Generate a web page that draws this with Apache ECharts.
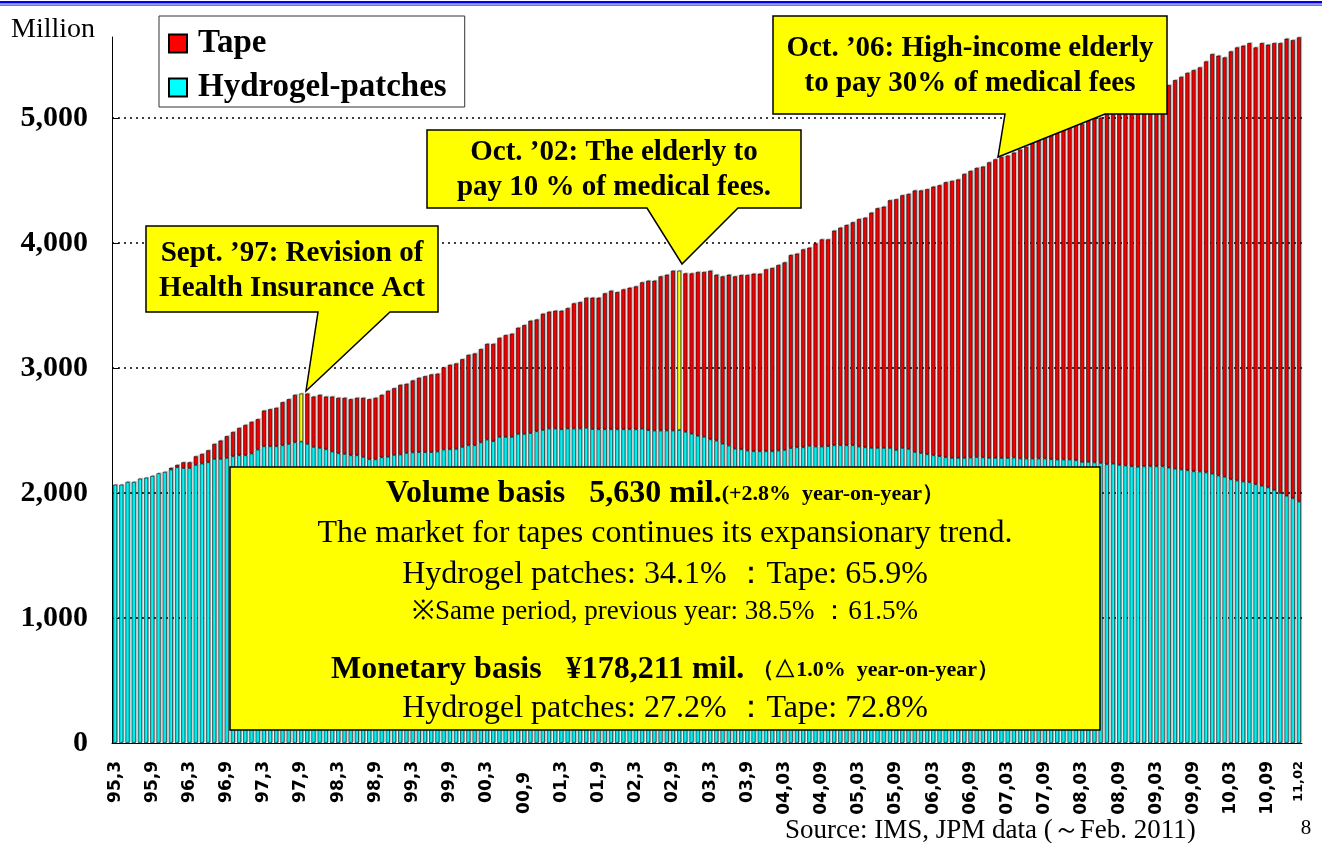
<!DOCTYPE html>
<html>
<head>
<meta charset="utf-8">
<script src="https://cdn.jsdelivr.net/npm/echarts@6/dist/echarts.min.js"></script>
<style>
html, body { margin: 0; padding: 0; background: #fff; }
#main { width: 1322px; height: 843px; }
</style>
</head>
<body>
<div id="main"></div>
<script>
// month labels 95,3 ... 11,02 (format switches to two-digit months from 2004)
var months = [];
(function () {
	var y = 1995, m = 3;
	while (y < 2011 || (y === 2011 && m <= 2)) {
		var yy = String(y % 100).padStart(2, '0');
		var mm = y < 2004 ? String(m) : String(m).padStart(2, '0');
		months.push(yy + ',' + mm);
		m++;
		if (m > 12) { m = 1; y++; }
	}
})();

// total volume (million)
var total = [
	2067,2067,2089,2089,2115,2123,2137,2158,2169,2201,
	2225,2246,2246,2294,2313,2342,2393,2420,2455,2489,
	2521,2545,2570,2591,2660,2671,2682,2727,2751,2786,
	2796,2796,2772,2786,2772,2772,2762,2762,2751,2762,
	2762,2751,2762,2786,2818,2839,2866,2874,2901,2922,
	2935,2949,2955,3005,3026,3037,3071,3106,3117,3152,
	3194,3194,3242,3264,3275,3323,3344,3379,3389,3435,
	3451,3459,3459,3480,3518,3528,3563,3563,3563,3598,
	3619,3608,3630,3643,3654,3686,3699,3699,3734,3747,
	3779,3779,3758,3758,3769,3769,3779,3747,3734,3747,
	3734,3745,3745,3755,3755,3790,3801,3825,3846,3905,
	3916,3950,3964,3998,4030,4030,4100,4124,4145,4167,
	4193,4204,4244,4279,4292,4343,4351,4383,4394,4421,
	4421,4431,4452,4463,4487,4498,4509,4554,4578,4602,
	4613,4647,4671,4690,4701,4725,4749,4770,4805,4837,
	4855,4877,4899,4917,4938,4957,4952,4984,5000,5005,
	5040,5060,5085,5100,5120,5140,5165,5190,5215,5240,
	5264,5304,5331,5363,5385,5406,5454,5513,5500,5486,
	5534,5566,5580,5601,5566,5601,5588,5601,5601,5636,
	5625,5647
];

// hydrogel-patches volume (million)
var hydrogel = [
	2067,2067,2089,2089,2115,2123,2137,2158,2169,2188,
	2206,2200,2200,2225,2236,2246,2273,2273,2281,2294,
	2302,2302,2316,2348,2374,2374,2374,2382,2393,2406,
	2412,2393,2369,2361,2350,2332,2318,2313,2302,2302,
	2289,2270,2270,2286,2290,2305,2308,2321,2325,2327,
	2327,2327,2332,2348,2350,2353,2369,2382,2382,2405,
	2428,2415,2449,2449,2449,2473,2473,2480,2494,2505,
	2516,2516,2510,2516,2516,2516,2522,2512,2510,2510,
	2510,2510,2510,2510,2510,2515,2503,2500,2500,2500,
	2500,2505,2490,2475,2458,2450,2430,2420,2395,2380,
	2355,2350,2340,2334,2334,2334,2334,2340,2345,2360,
	2366,2366,2378,2372,2372,2375,2382,2382,2382,2382,
	2372,2366,2361,2361,2361,2361,2345,2361,2353,2329,
	2320,2310,2302,2295,2286,2281,2281,2281,2284,2288,
	2285,2281,2281,2281,2281,2284,2276,2276,2276,2276,
	2276,2270,2268,2268,2268,2262,2249,2249,2245,2241,
	2230,2235,2225,2220,2214,2210,2214,2214,2214,2214,
	2203,2195,2188,2182,2174,2172,2165,2155,2140,2130,
	2110,2100,2092,2086,2070,2058,2045,2025,2000,1978,
	1958,1932
];

var yTicks = [0, 1000, 2000, 3000, 4000, 5000];
var highlight = [30, 91]; // Sept '97, Oct '02

var tape = total.map(function (t, i) {
	var v = t - hydrogel[i];
	if (v <= 0) return null;
	if (highlight.indexOf(i) >= 0) return { value: v, itemStyle: { color: '#ffff00' } };
	return v;
});

var serif = 'Liberation Serif, Times New Roman, serif';
var barStyle = function (c) {
	return {
		color: c, borderColor: '#000', borderWidth: 0.6,
		shadowColor: 'rgba(0,0,0,0.22)', shadowOffsetX: 1.2, shadowOffsetY: -1, shadowBlur: 0
	};
};

function callout(pts, lines) {
	var els = [{
		type: 'polygon', z: 100,
		shape: { points: pts },
		style: { fill: '#ffff00', stroke: '#000', lineWidth: 1.5 }
	}];
	lines.forEach(function (l) {
		els.push({
			type: 'text', z: 101, x: l[1], y: l[2],
			style: {
				text: l[0], fill: '#000', align: 'center', verticalAlign: 'middle',
				font: 'bold 29px ' + serif,
				textShadowColor: '#aaa', textShadowOffsetX: 2, textShadowOffsetY: 2, textShadowBlur: 0
			}
		});
	});
	return els;
}

function boxText(text, y, size, rich) {
	return {
		type: 'text', z: 101, x: 665, y: y,
		style: {
			text: text, fill: '#000', align: 'center', verticalAlign: 'middle',
			font: size + 'px ' + serif, rich: rich
		}
	};
}

var richHead = {
	b: { fontFamily: serif, fontWeight: 'bold', fontSize: 32, fill: '#000' },
	s: { fontFamily: serif, fontWeight: 'bold', fontSize: 22, fill: '#000' }
};

var graphics = [
	{ type: 'rect', shape: { x: 0, y: 1, width: 1322, height: 2.5 }, style: { fill: '#0000ee' } },
	{ type: 'rect', shape: { x: 0, y: 4.5, width: 1322, height: 1.3 }, style: { fill: '#3344ff' } },
	{ type: 'text', x: 11, y: 30, style: { text: 'Million', font: '28px ' + serif, fill: '#000', verticalAlign: 'middle' } },
	{ type: 'text', x: 785, y: 831, style: { text: 'Source: IMS, JPM data (～Feb. 2011)', font: '27px ' + serif, fill: '#000', verticalAlign: 'middle' } },
	{ type: 'text', x: 1306, y: 828, style: { text: '8', font: '21px ' + serif, fill: '#000', align: 'center', verticalAlign: 'middle' } },
	{
		type: 'rect', z: 100, shape: { x: 230, y: 467, width: 870, height: 263 },
		style: { fill: '#ffff00', stroke: '#000', lineWidth: 1.5 }
	},
	boxText('{b|Volume basis   5,630 mil.}{s|(+2.8%  year-on-year）}', 494, 32, richHead),
	boxText('The market for tapes continues its expansionary trend.', 534, 32),
	boxText('Hydrogel patches: 34.1% ：Tape: 65.9%', 575, 32),
	boxText('※Same period, previous year: 38.5% ：61.5%', 612, 27),
	boxText('{b|Monetary basis   ¥178,211 mil. }{s|（△1.0%  year-on-year）}', 670, 32, richHead),
	boxText('Hydrogel patches: 27.2% ：Tape: 72.8%', 709, 32)
];
graphics = graphics
	.concat(callout([[146, 226], [438, 226], [438, 312], [390, 312], [306, 391], [318, 312], [146, 312]],
		[['Sept. ’97: Revision of', 292, 254], ['Health Insurance Act', 292, 289]]))
	.concat(callout([[427, 130], [801, 130], [801, 208], [738, 208], [682, 264], [647, 208], [427, 208]],
		[['Oct. ’02: The elderly to', 614, 153], ['pay 10 % of medical fees.', 614, 188]]))
	.concat(callout([[773, 16], [1167, 16], [1167, 114], [1105, 114], [998, 157], [1005, 114], [773, 114]],
		[['Oct. ’06: High-income elderly', 970, 49], ['to pay 30% of medical fees', 970, 84]]));

var myChart = echarts.init(document.getElementById('main'));
var option = {
	animation: false,
	backgroundColor: '#fff',
	grid: { left: 112, right: 20, top: 37, bottom: 100, containLabel: false, outerBoundsMode: 'none' },
	legend: {
		data: ['Tape', 'Hydrogel-patches'],
		orient: 'vertical', left: 159, top: 16,
		padding: [11, 18, 3, 9], itemGap: 11,
		itemWidth: 18, itemHeight: 18, icon: 'rect',
		backgroundColor: '#fff', borderColor: '#333', borderWidth: 1,
		textStyle: { fontFamily: serif, fontWeight: 'bold', fontSize: 33, color: '#000', padding: [0, 0, 0, 6] }
	},
	xAxis: {
		type: 'category', data: months,
		axisLine: { lineStyle: { color: '#000', width: 1 } },
		axisTick: { show: false },
		axisLabel: {
			rotate: 90, margin: 18, color: '#000',
			fontFamily: 'DejaVu Sans, Arial, sans-serif', fontWeight: 'bold', fontSize: 17,
			interval: function (i) { return i % 6 === 0 || i === months.length - 1; },
			formatter: function (v, i) {
				if (i === months.length - 1) return '{e|' + v + '}';
				if (v === '00,9') return '{o|' + v + '}';
				return v;
			},
			rich: {
				e: { fontSize: 13, fontWeight: 'bold', fontFamily: 'DejaVu Sans, Arial, sans-serif', color: '#000' },
				o: { fontSize: 17, fontWeight: 'bold', fontFamily: 'DejaVu Sans, Arial, sans-serif', color: '#000', padding: [0, 11, 0, 0] }
			}
		}
	},
	yAxis: {
		type: 'value', min: 0, max: 5650, interval: 1000,
		axisLine: { show: true, lineStyle: { color: '#000', width: 1 } },
		axisTick: { show: true, inside: true, length: 7, lineStyle: { color: '#000' } },
		axisLabel: {
			margin: 24, color: '#000', fontFamily: serif, fontWeight: 'bold', fontSize: 30,
			showMaxLabel: false,
			formatter: function (v) {
				return yTicks.indexOf(v) >= 0 ? v.toLocaleString('en-US') : '';
			}
		},
		splitLine: {
			show: true, showMinLine: false, showMaxLine: false,
			lineStyle: { color: '#000', type: [2, 4], width: 1.5 }
		}
	},
	series: [
		{ name: 'Hydrogel-patches', type: 'bar', stack: 'vol', barWidth: 4, data: hydrogel, itemStyle: barStyle('#00ffff') },
		{ name: 'Tape', type: 'bar', stack: 'vol', barWidth: 4, data: tape, itemStyle: barStyle('#ff0000') }
	],
	graphic: graphics
};
myChart.setOption(option);
</script>
</body>
</html>
